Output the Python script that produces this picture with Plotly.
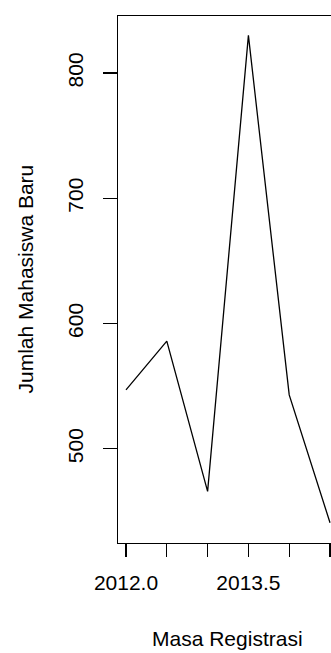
import plotly.graph_objects as go

# Data (semiannual time series)
periode = [2012.0, 2012.5, 2013.0, 2013.5, 2014.0, 2014.5]
jumlah = [547, 586, 466, 830, 543, 441]

x_tickvals = [2012.0, 2012.5, 2013.0, 2013.5, 2014.0, 2014.5]
x_ticktext = ["2012.0", "", "", "2013.5", "", ""]
y_tickvals = [500, 600, 700, 800]
y_ticktext = ["500", "600", "700", "800"]

x_title = "Masa Registrasi"
y_title = "Jumlah Mahasiswa Baru"

W, H = 331, 653
L, R, T, B = 118, 0, 16, 110
FONT = "Liberation Sans, Arial, sans-serif"

fig = go.Figure()
fig.add_trace(go.Scatter(
    x=periode, y=jumlah, mode="lines",
    line=dict(color="black", width=1.3),
    hoverinfo="skip", showlegend=False,
))

pw = W - L - R
ph = H - T - B

fig.update_layout(
    width=W, height=H,
    margin=dict(l=L, r=R, t=T, b=B, pad=0),
    paper_bgcolor="white", plot_bgcolor="white",
    font=dict(family=FONT, size=21, color="black"),
    showlegend=False,
    xaxis=dict(
        range=[2011.902, 2014.512], autorange=False,
        tickmode="array", tickvals=x_tickvals, ticktext=x_ticktext,
        ticks="outside", ticklen=13, tickwidth=1.3, tickcolor="black",
        showline=True, linecolor="black", linewidth=1.3, mirror=True,
        showgrid=False, zeroline=False,
        ticklabelstandoff=7,
        tickfont=dict(family=FONT, size=21, color="black"),
    ),
    yaxis=dict(
        range=[424.8, 845.5], autorange=False,
        tickmode="array", tickvals=y_tickvals, ticktext=y_ticktext,
        ticks="outside", ticklen=14, tickwidth=1.3, tickcolor="black",
        showline=True, linecolor="black", linewidth=1.3, mirror=False,
        showgrid=False, zeroline=False,
        tickangle=-90,
        ticklabelstandoff=11,
        tickfont=dict(family=FONT, size=21, color="black"),
    ),
    annotations=[
        dict(text=x_title, xref="paper", yref="paper",
             x=(227 - L) / pw, y=0, xanchor="center", yanchor="middle",
             yshift=-(638 - (H - B)), showarrow=False,
             font=dict(family=FONT, size=21, color="black")),
        dict(text=y_title, xref="paper", yref="paper",
             x=0, y=0.5, xanchor="center", yanchor="middle",
             xshift=-(L - 25), textangle=-90, showarrow=False,
             font=dict(family=FONT, size=21, color="black")),
    ],
)

fig.write_html(
    "out.html",
    config={"displayModeBar": False, "staticPlot": True},
    post_script="document.body.style.margin='0';"
                "document.documentElement.style.overflow='hidden';",
)
